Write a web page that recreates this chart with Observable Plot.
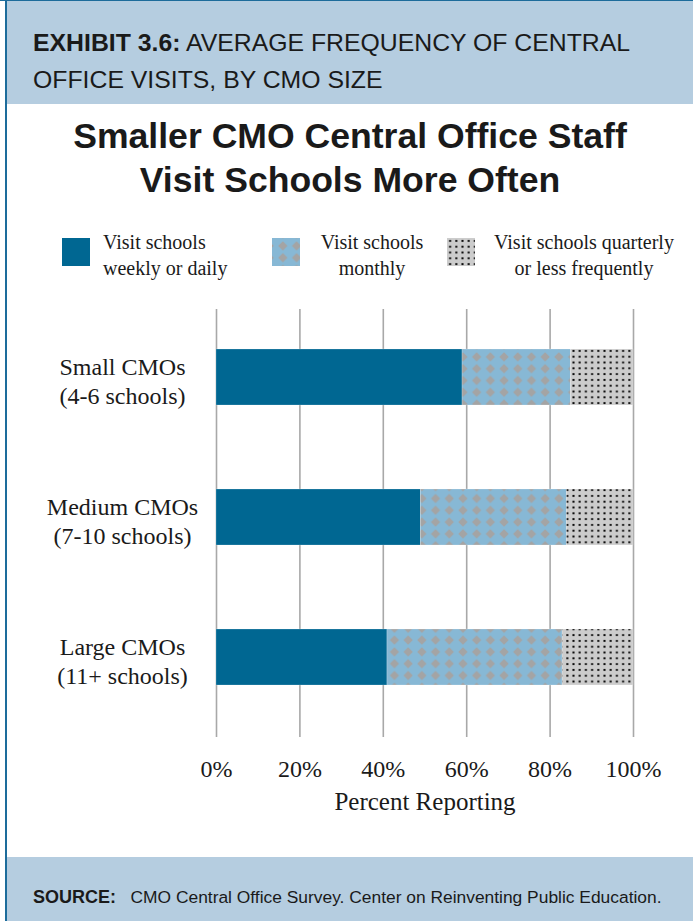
<!DOCTYPE html>
<html>
<head>
<meta charset="utf-8">
<script src="https://cdn.jsdelivr.net/npm/d3@7"></script>
<script src="https://cdn.jsdelivr.net/npm/@observablehq/plot@0.6"></script>
<style>
  html, body { margin: 0; padding: 0; background: #fff; }
  #page { position: relative; width: 693px; height: 921px; overflow: hidden; background: #fff; }
  #topline { position: absolute; left: 0; top: 0; width: 693px; height: 1px; background: #1d6c9b; }
  #leftline { position: absolute; left: 5px; top: 0; width: 2px; height: 921px; background: #1d6c9b; }
  #header { position: absolute; left: 7px; top: 1px; width: 686px; height: 103px; background: #b5cde0; }
  #header .t { position: absolute; left: 26px; top: 23px; font-family: "Liberation Sans", Arial, sans-serif; font-size: 24.8px; line-height: 37px; color: #1a1a1a; white-space: nowrap; }
  #title { position: absolute; left: 7px; width: 686px; top: 114px; text-align: center; font-family: "Liberation Sans", Arial, sans-serif; font-weight: bold; font-size: 35.6px; line-height: 44px; color: #1a1a1a; white-space: nowrap; }
  .leg { position: absolute; font-family: "Liberation Serif", "Times New Roman", serif; font-size: 20px; line-height: 26px; color: #1a1a1a; white-space: nowrap; }
  .sw { position: absolute; width: 28px; height: 28px; }
  #chart { position: absolute; left: 0; top: 290px; }
  #footer { position: absolute; left: 7px; top: 857px; width: 686px; height: 64px; background: #b5cde0; }
  #footer .t { position: absolute; left: 26px; top: 30px; font-family: "Liberation Sans", Arial, sans-serif; font-size: 17.4px; color: #1a1a1a; white-space: nowrap; }
</style>
</head>
<body>
<div id="page">
  <div id="header"><div class="t"><b>EXHIBIT 3.6:</b> AVERAGE FREQUENCY OF CENTRAL<br>OFFICE VISITS, BY CMO SIZE</div></div>
  <div id="topline"></div>
  <div id="leftline"></div>
  <div id="title">Smaller CMO Central Office Staff<br>Visit Schools More Often</div>
  <div id="legend"></div>
  <div id="chart"></div>
  <div id="footer"><div class="t"><b style="font-size:18px">SOURCE:</b>&nbsp;&nbsp; CMO Central Office Survey. Center on Reinventing Public Education.</div></div>
</div>
<script>
// ---- data ----
const categories = ["Small CMOs\n(4-6 schools)", "Medium CMOs\n(7-10 schools)", "Large CMOs\n(11+ schools)"];
const series = ["Visit schools weekly or daily", "Visit schools monthly", "Visit schools quarterly or less frequently"];
const seriesLegendLines = [["Visit schools", "weekly or daily"], ["Visit schools", "monthly"], ["Visit schools quarterly", "or less frequently"]];
const weekly    = [59, 49, 41];
const monthly   = [26, 35, 42];
const quarterly = [15, 16, 17];
const xTicks = [0, 20, 40, 60, 80, 100];

const fills = ["#006792", "url(#patMonthly)", "url(#patQuarterly)"];

const rows = [];
categories.forEach((c, i) => {
  [weekly, monthly, quarterly].forEach((arr, j) => {
    rows.push({category: c, series: series[j], value: arr[i], order: j});
  });
});

// ---- pattern defs (shared document-wide) ----
const defsSvg = `
<svg width="0" height="0" style="position:absolute">
  <defs>
    <pattern id="patMonthly" patternUnits="userSpaceOnUse" width="13.7" height="11.8" x="4" y="2">
      <rect width="13.7" height="11.8" fill="#87b8d5"/>
      <path d="M6.85,1.3 L11.5,5.9 L6.85,10.5 L2.2,5.9 Z" fill="#a4a4a4"/>
    </pattern>
    <pattern id="patQuarterly" patternUnits="userSpaceOnUse" width="6.2" height="5.8">
      <rect width="6.2" height="5.8" fill="#cccccc"/>
      <rect x="2.1" y="1.9" width="2" height="2" fill="#0d0d0d"/>
    </pattern>
  </defs>
</svg>`;
document.body.insertAdjacentHTML("afterbegin", defsSvg);

// ---- legend ----
const legend = document.getElementById("legend");
const swX = [62, 272, 447];
const txt = [
  {left: 103, center: null},
  {center: 372},
  {center: 584}
];
series.forEach((s, j) => {
  const sw = document.createElement("div");
  sw.className = "sw";
  sw.style.left = swX[j] + "px";
  sw.style.top = "238px";
  sw.innerHTML = `<svg width="28" height="28"><rect width="28" height="28" fill="${fills[j]}"/></svg>`;
  legend.appendChild(sw);
  const t = document.createElement("div");
  t.className = "leg";
  t.style.top = "229px";
  if (txt[j].center == null) {
    t.style.left = txt[j].left + "px";
    t.style.textAlign = "left";
  } else {
    t.style.left = (txt[j].center - 110) + "px";
    t.style.width = "220px";
    t.style.textAlign = "center";
  }
  t.innerHTML = seriesLegendLines[j].join("<br>");
  legend.appendChild(t);
});

// ---- chart ----
const chart = Plot.plot({
  width: 693,
  height: 540,
  marginLeft: 216,
  marginRight: 60,
  marginTop: 19,
  marginBottom: 99,
  style: {background: "transparent", overflow: "visible"},
  x: {domain: [0, 100], ticks: xTicks},
  y: {domain: categories, paddingInner: 0.6, paddingOuter: 0.307, align: 0.465},
  color: {domain: series, range: fills},
  marks: [
    Plot.gridX(xTicks, {stroke: "#a8a8a8", strokeOpacity: 1, strokeWidth: 1.6}),
    Plot.barX(rows, Plot.stackX({
      x: "value", y: "category", fill: "series", order: "order",
      stroke: "#ffffff", strokeOpacity: 0.35, strokeWidth: 0.6
    })),
    Plot.ruleY([0], {frameAnchor: "bottom", stroke: "#a8a8a8", strokeWidth: 1.6}),
    Plot.axisX(xTicks, {
      tickFormat: d => d + "%",
      tickSize: 6, tickPadding: 22, stroke: "#a8a8a8", strokeWidth: 1.6,
      fontSize: 24, fontFamily: "Liberation Serif, serif", fill: "#1a1a1a",
      label: "Percent Reporting", labelAnchor: "center", labelOffset: 78, labelArrow: "none"
    }),
    Plot.axisY({
      tickSize: 0, tickPadding: 0, textAnchor: "middle", dx: -94, dy: 3,
      fontSize: 24, lineHeight: 1.17, fontFamily: "Liberation Serif, serif", fill: "#1a1a1a",
      label: null
    })
  ]
});
chart.querySelectorAll("text").forEach(t => t.style.fontFamily = "Liberation Serif, serif");
chart.querySelectorAll("g[aria-label='x-axis label'] text, g[aria-label='x-axis label']").forEach(t => t.style.fontSize = "25px");
document.getElementById("chart").appendChild(chart);
</script>
</body>
</html>
